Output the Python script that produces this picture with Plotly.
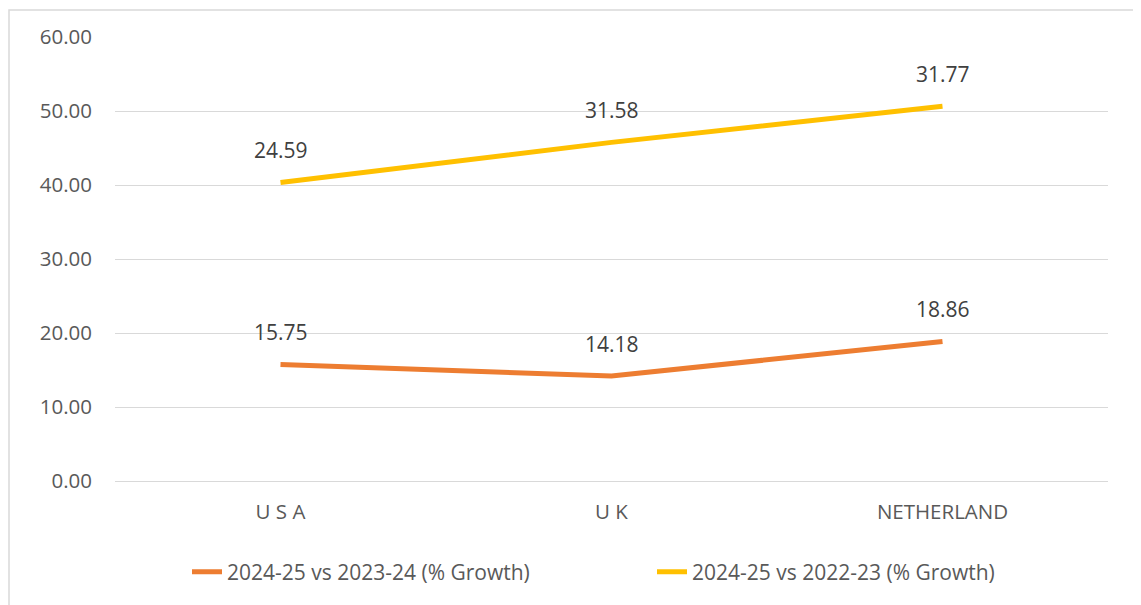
import plotly.graph_objects as go

categories = ["U S A", "U K", "NETHERLAND"]
series_names = ["2024-25 vs 2023-24 (% Growth)", "2024-25 vs 2022-23 (% Growth)"]
growth_vs_2324 = [15.75, 14.18, 18.86]
growth_vs_2223 = [24.59, 31.58, 31.77]
y_ticks = [0, 10, 20, 30, 40, 50, 60]
y_tick_labels = ["0.00", "10.00", "20.00", "30.00", "40.00", "50.00", "60.00"]

colors = ["#ED7D31", "#FFC000"]
FONT = "Open Sans"

# stacked line chart (as in the original Excel chart)
stack1 = growth_vs_2324
stack2 = [a + b for a, b in zip(growth_vs_2324, growth_vs_2223)]

fig = go.Figure()
for name, ys, vals, col in [
    (series_names[0], stack1, growth_vs_2324, colors[0]),
    (series_names[1], stack2, growth_vs_2223, colors[1]),
]:
    fig.add_trace(go.Scatter(
        x=categories, y=ys, name=name, mode="lines",
        line=dict(color=col, width=5), hoverinfo="skip",
    ))
    for c, y, v in zip(categories, ys, vals):
        fig.add_annotation(
            x=c, y=y, text=f"{v:.2f}", showarrow=False,
            yshift=32, font=dict(family=FONT, size=21, color="#404040"),
        )

# page has an 8px body margin, so the figure is 8px smaller than the window
W, H = 1133, 597
L, R, T, B = 107, 33, 29, 124
pw, ph = W - L - R, H - T - B

fig.add_shape(
    type="rect", xref="paper", yref="paper",
    x0=(1 - L) / pw, x1=(W + 5 - L) / pw,
    y0=(H - B - (H + 5)) / ph, y1=(H - B - 2) / ph,
    line=dict(color="#D9D9D9", width=1.5), fillcolor="rgba(0,0,0,0)",
    layer="below",
)

fig.update_layout(
    width=W, height=H,
    margin=dict(l=L, r=R, t=T, b=B),
    paper_bgcolor="white", plot_bgcolor="white",
    font=dict(family=FONT, size=21, color="#595959"),
    showlegend=True,
    legend=dict(
        orientation="h", xref="container", yref="container",
        x=644 / W, xanchor="center", y=(H - 564) / H, yanchor="middle",
        font=dict(family=FONT, size=21, color="#595959"),
        entrywidth=420, entrywidthmode="pixels",
        itemclick=False, itemdoubleclick=False,
    ),
    xaxis=dict(
        type="category", range=[-0.5, 2.5], showgrid=False,
        showline=False, ticks="", tickfont=dict(size=20.5, color="#595959"),
        ticklabelstandoff=16, fixedrange=True,
    ),
    yaxis=dict(
        range=[0, 60], tickvals=y_ticks, ticktext=y_tick_labels,
        showgrid=True, gridcolor="#D9D9D9", gridwidth=1.3,
        zeroline=True, zerolinecolor="#D9D9D9", zerolinewidth=1.3,
        showline=False, ticks="", ticklabelstandoff=22,
        tickfont=dict(size=20.5, color="#595959"), fixedrange=True,
    ),
)
fig.write_html("out.html")
